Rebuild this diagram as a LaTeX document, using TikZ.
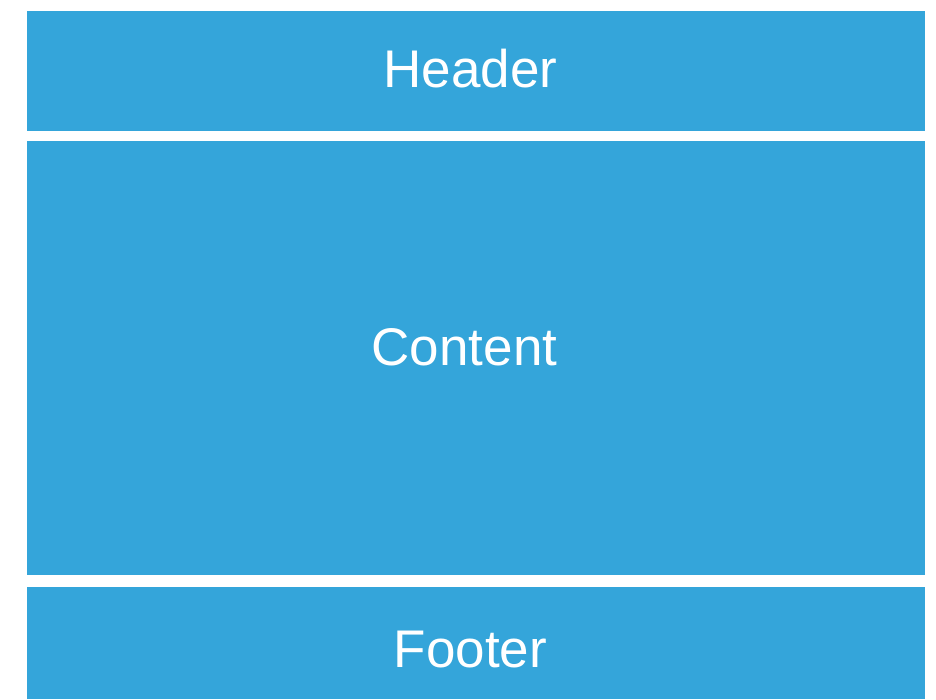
\documentclass[tikz,border=0pt]{standalone}
\usepackage{fontspec}
\setmainfont{Liberation Sans}
\definecolor{panelblue}{RGB}{52,165,218}
\begin{document}
\begin{tikzpicture}[x=1pt,y=-1pt,
  panel/.style={fill=panelblue,draw=none,inner sep=0pt,outer sep=0pt},
  paneltext/.style={text=white,font=\fontsize{53}{60}\selectfont,anchor=base,inner sep=0pt}]
\useasboundingbox (0,0) rectangle (936,699);
\fill[white] (0,0) rectangle (936,699);
\node[panel,minimum width=898.5pt,minimum height=120pt,anchor=north west] (header) at (26.5,11) {};
\node[panel,minimum width=898.5pt,minimum height=434pt,anchor=north west] (content) at (26.5,141) {};
\node[panel,minimum width=898.5pt,minimum height=112pt,anchor=north west] (footer) at (26.5,587) {};
\node[paneltext] (headertext) at (470.5,87.5) {Header};
\node[paneltext] (contenttext) at (464.5,365.5) {Content};
\node[paneltext] (footertext) at (470.5,667.5) {Footer};
\end{tikzpicture}
\end{document}
